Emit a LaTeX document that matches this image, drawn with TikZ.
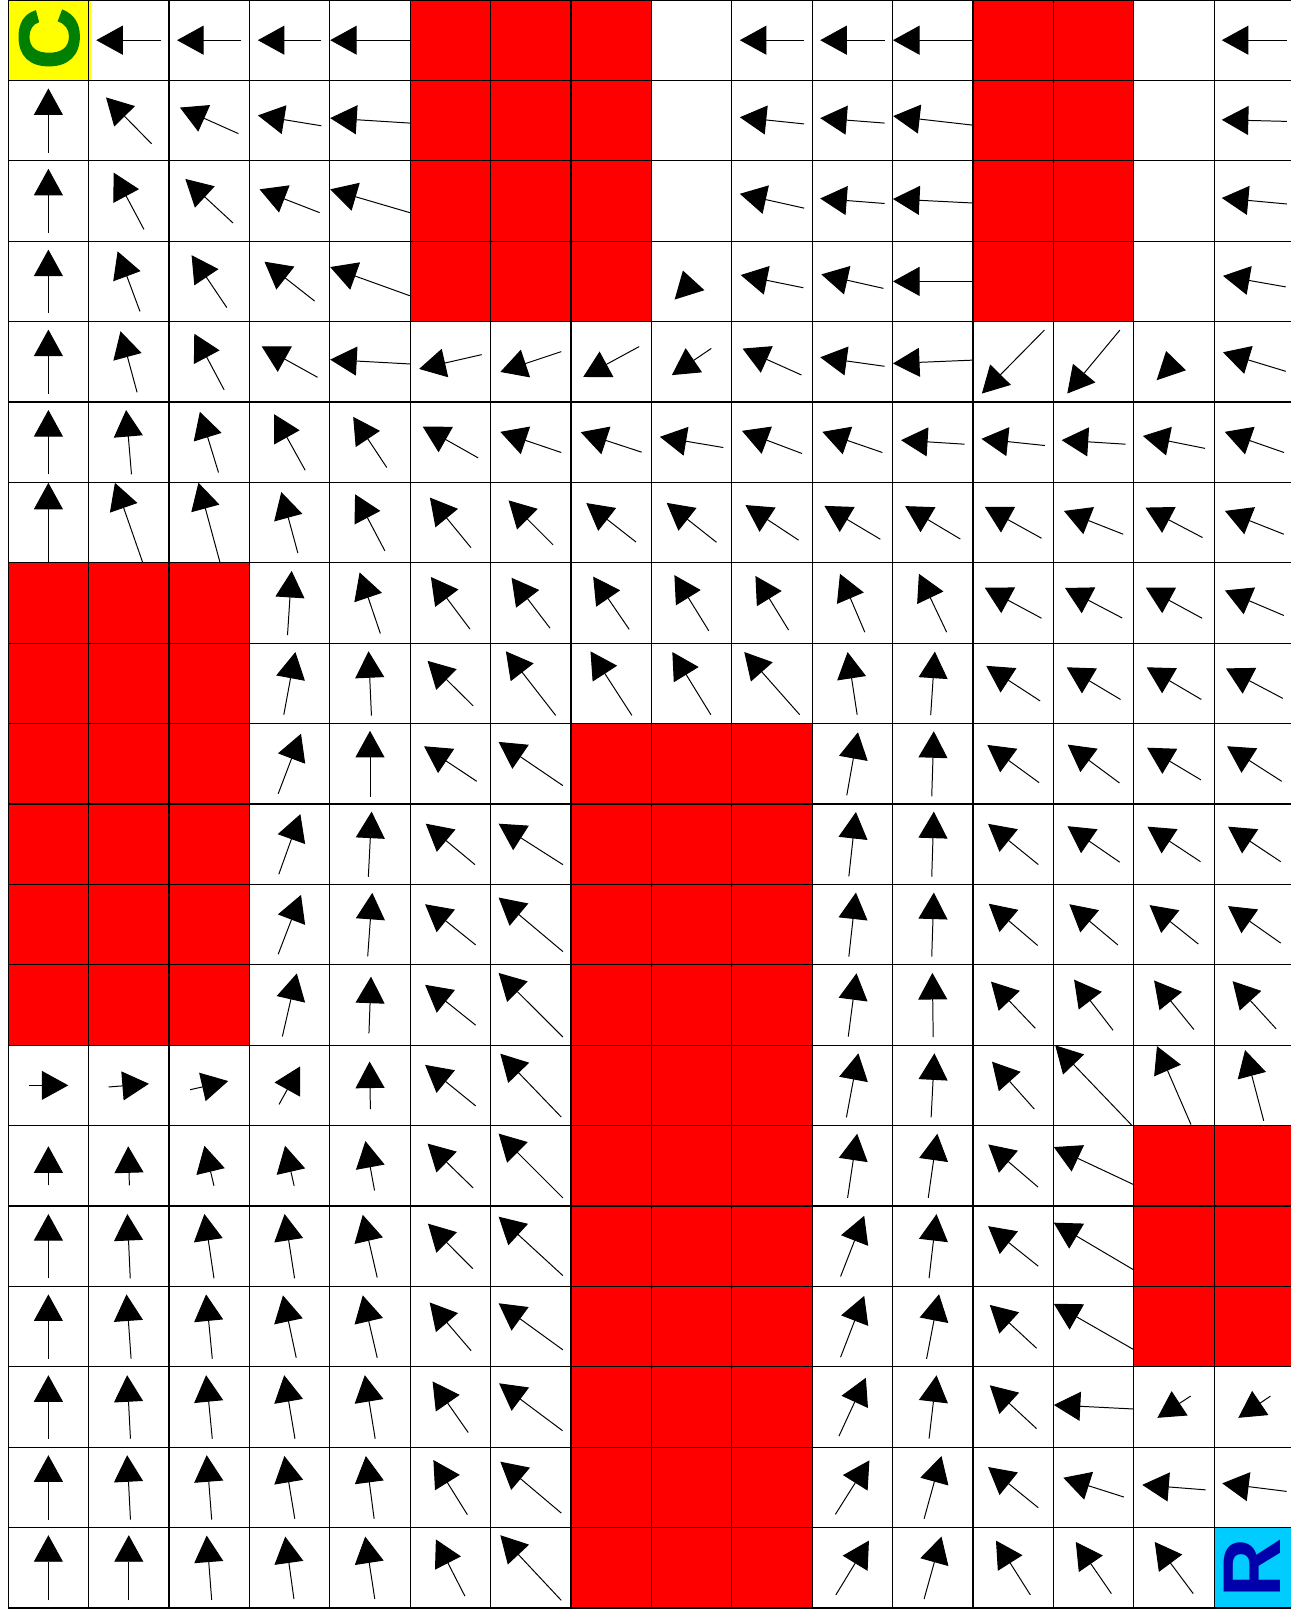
\documentclass[tikz,border=0pt]{standalone}
\usepackage{fontspec}
\setmainfont{Liberation Sans}
\newfontfamily\heavyfont[FakeBold=1.6]{Liberation Sans Bold}
\usetikzlibrary{arrows.meta}
\definecolor{cellred}{RGB}{255,0,0}
\definecolor{cellyellow}{RGB}{255,255,0}
\definecolor{cellcyan}{RGB}{0,204,255}
\definecolor{cgreen}{RGB}{0,128,0}
\definecolor{rblue}{RGB}{0,0,170}
\tikzset{
  gridline/.style={draw=black, line width=0.45pt},
  qarrow/.style={line width=0.35pt, -{Triangle[length=0.33cm, width=0.36cm]}},
  redcell/.style={fill=cellred},
  bigletter/.style={rotate=90, inner sep=0pt}
}
\begin{document}
\begin{tikzpicture}[x=1cm,y=1cm]
\useasboundingbox (-0.102,0) rectangle (15.955,-20.1);
\clip (-0.102,0) rectangle (15.955,-20.1);
% obstacle cells
\foreach \r in {0,...,3}{\foreach \c in {5,6,7,12,13}{\fill[redcell] (\c,-\r) rectangle ++(1,-1);}}
\foreach \r in {7,...,12}{\foreach \c in {0,1,2}{\fill[redcell] (\c,-\r) rectangle ++(1,-1);}}
\foreach \r in {9,...,19}{\foreach \c in {7,8,9}{\fill[redcell] (\c,-\r) rectangle ++(1,-1);}}
\foreach \r in {14,15,16}{\foreach \c in {14,15}{\fill[redcell] (\c,-\r) rectangle ++(1,-1);}}
% start and goal cells
\fill[cellyellow] (0.01,0) rectangle (1.03,-1.01);
\fill[cellcyan] (15,-19) rectangle (16,-20);
% grid
\draw[gridline] (0,0) grid (16,-20);
\node[bigletter, text=cgreen, font=\heavyfont\fontsize{30}{30}\selectfont] (start) at (0.51,-0.48) {C};
\node[bigletter, text=rblue, font=\fontsize{29}{29}\selectfont\bfseries] (goal) at (15.47,-19.5) {R};
% arrows: column/row/dx/dy (dy measured downward)
\foreach \c/\r/\u/\v in {
1/0/-0.81/0, 2/0/-0.80/0, 3/0/-0.79/0, 4/0/-0.99/0, 9/0/-0.80/0, 10/0/-0.80/0, 11/0/-0.99/0, 15/0/-0.81/0,
0/1/0/-0.80, 1/1/-0.567/-0.577, 2/1/-0.727/-0.324, 3/1/-0.789/-0.129, 4/1/-0.99/-0.062, 9/1/-0.80/-0.083, 10/1/-0.80/-0.062, 11/1/-0.985/-0.112, 15/1/-0.81/-0.02,
0/2/0/-0.80, 1/2/-0.376/-0.705, 2/2/-0.593/-0.548, 3/2/-0.747/-0.29, 4/2/-0.99/-0.29, 9/2/-0.80/-0.178, 10/2/-0.80/-0.062, 11/2/-0.99/-0.05, 15/2/-0.81/-0.075,
0/3/0/-0.79, 1/3/-0.278/-0.747, 2/3/-0.438/-0.651, 3/3/-0.624/-0.49, 4/3/-0.99/-0.357, 9/3/-0.778/-0.158, 10/3/-0.773/-0.174, 11/3/-0.99/0, 15/3/-0.78/-0.137,
0/4/0/-0.80, 1/4/-0.206/-0.76, 2/4/-0.371/-0.697, 3/4/-0.696/-0.386, 4/4/-0.99/-0.054, 5/4/-0.778/0.178, 6/4/-0.758/0.253, 7/4/-0.696/0.378, 8/4/-0.49/0.332, 9/4/-0.732/-0.328, 10/4/-0.80/-0.112, 11/4/-0.99/0.041, 12/4/-0.778/0.79, 13/4/-0.655/0.79, 15/4/-0.78/-0.237,
0/5/0/-0.80, 1/5/-0.067/-0.80, 2/5/-0.232/-0.755, 3/5/-0.387/-0.697, 4/5/-0.418/-0.63, 5/5/-0.69/-0.39, 6/5/-0.758/-0.257, 7/5/-0.758/-0.249, 8/5/-0.789/-0.133, 9/5/-0.747/-0.282, 10/5/-0.747/-0.257, 11/5/-0.789/-0.05, 12/5/-0.789/-0.083, 13/5/-0.794/-0.05, 14/5/-0.773/-0.154, 15/5/-0.737/-0.257,
0/6/0/-0.99, 1/6/-0.345/-0.99, 2/6/-0.268/-0.99, 3/6/-0.206/-0.76, 4/6/-0.371/-0.705, 5/6/-0.51/-0.622, 6/6/-0.552/-0.552, 7/6/-0.619/-0.485, 8/6/-0.619/-0.49, 9/6/-0.66/-0.436, 10/6/-0.696/-0.415, 11/6/-0.686/-0.41, 12/6/-0.706/-0.39, 13/6/-0.737/-0.29, 14/6/-0.711/-0.373, 15/6/-0.732/-0.29,
3/7/0.052/-0.797, 4/7/-0.258/-0.76, 5/7/-0.485/-0.647, 6/7/-0.479/-0.627, 7/7/-0.448/-0.656, 8/7/-0.428/-0.693, 9/7/-0.412/-0.672, 10/7/-0.309/-0.726, 11/7/-0.345/-0.726, 12/7/-0.706/-0.38, 13/7/-0.711/-0.373, 14/7/-0.70/-0.38, 15/7/-0.732/-0.311,
3/8/0.144/-0.78, 4/8/-0.036/-0.80, 5/8/-0.567/-0.56, 6/8/-0.619/-0.797, 7/8/-0.515/-0.797, 8/8/-0.479/-0.78, 9/8/-0.69/-0.78, 10/8/-0.119/-0.78, 11/8/0.052/-0.79, 12/8/-0.67/-0.436, 13/8/-0.67/-0.40, 14/8/-0.68/-0.40, 15/8/-0.706/-0.373,
3/9/0.284/-0.747, 4/9/0/-0.82, 5/9/-0.655/-0.436, 6/9/-0.80/-0.544, 10/9/0.139/-0.784, 11/9/0.026/-0.81, 12/9/-0.644/-0.469, 13/9/-0.644/-0.477, 14/9/-0.67/-0.40, 15/9/-0.68/-0.436,
3/10/0.268/-0.747, 4/10/0.041/-0.81, 5/10/-0.613/-0.51, 6/10/-0.80/-0.51, 10/10/0.088/-0.80, 11/10/0.026/-0.81, 12/10/-0.624/-0.506, 13/10/-0.65/-0.448, 14/10/-0.66/-0.436, 15/10/-0.655/-0.436,
3/11/0.284/-0.739, 4/11/0.057/-0.79, 5/11/-0.629/-0.506, 6/11/-0.80/-0.672, 10/11/0.088/-0.797, 11/11/0.026/-0.797, 12/11/-0.608/-0.519, 13/11/-0.603/-0.506, 14/11/-0.608/-0.485, 15/11/-0.655/-0.46,
3/12/0.18/-0.784, 4/12/0.026/-0.705, 5/12/-0.629/-0.502, 6/12/-0.80/-0.797, 10/12/0.103/-0.788, 11/12/-0.01/-0.797, 12/12/-0.552/-0.581, 13/12/-0.485/-0.63, 14/12/-0.495/-0.61, 15/12/-0.541/-0.593,
0/13/0.495/0, 1/13/0.50/-0.04, 2/13/0.474/-0.108, 3/13/0.263/-0.473, 4/13/-0.01/-0.593, 5/13/-0.629/-0.51, 6/13/-0.758/-0.788, 10/13/0.149/-0.797, 11/13/0.041/-0.797, 12/13/-0.526/-0.589, 13/13/-0.954/-0.996, 14/13/-0.423/-0.975, 15/13/-0.232/-0.88,
0/14/0/-0.485, 1/14/-0.015/-0.485, 2/14/-0.119/-0.498, 3/14/-0.113/-0.498, 4/14/-0.113/-0.614, 5/14/-0.567/-0.552, 6/14/-0.80/-0.80, 10/14/0.119/-0.797, 11/14/0.113/-0.797, 12/14/-0.619/-0.531, 13/14/-0.99/-0.465,
0/15/0/-0.80, 1/15/-0.036/-0.80, 2/15/-0.119/-0.80, 3/15/-0.124/-0.80, 4/15/-0.18/-0.78, 5/15/-0.557/-0.56, 6/15/-0.80/-0.734, 10/15/0.294/-0.755, 11/15/0.093/-0.797, 12/15/-0.624/-0.498, 13/15/-0.99/-0.585,
0/16/0/-0.80, 1/16/-0.057/-0.80, 2/16/-0.077/-0.80, 3/16/-0.165/-0.776, 4/16/-0.18/-0.776, 5/16/-0.515/-0.60, 6/16/-0.80/-0.58, 10/16/0.294/-0.763, 11/16/0.155/-0.805, 12/16/-0.582/-0.539, 13/16/-0.99/-0.568,
0/17/0/-0.79, 1/17/-0.041/-0.79, 2/17/-0.077/-0.79, 3/17/-0.134/-0.79, 4/17/-0.129/-0.79, 5/17/-0.443/-0.635, 6/17/-0.789/-0.589, 10/17/0.335/-0.726, 11/17/0.093/-0.788, 12/17/-0.582/-0.539, 13/17/-0.99/-0.05, 14/17/-0.412/0.27, 15/17/-0.40/0.27,
0/18/0/-0.80, 1/18/-0.041/-0.80, 2/18/-0.062/-0.80, 3/18/-0.129/-0.78, 4/18/-0.103/-0.78, 5/18/-0.423/-0.68, 6/18/-0.758/-0.639, 10/18/0.423/-0.672, 11/18/0.216/-0.78, 12/18/-0.624/-0.506, 13/18/-0.753/-0.24, 14/18/-0.789/-0.062, 15/18/-0.80/-0.10,
0/19/0/-0.81, 1/19/0/-0.81, 2/19/-0.062/-0.80, 3/19/-0.108/-0.776, 4/19/-0.119/-0.776, 5/19/-0.361/-0.705, 6/19/-0.758/-0.81, 10/19/0.412/-0.676, 11/19/0.216/-0.776, 12/19/-0.428/-0.676, 13/19/-0.443/-0.643, 14/19/-0.479/-0.643
}{
  \draw[qarrow] ({\c+0.5-\u/2},{-\r-0.5+\v/2}) -- ({\c+0.5+\u/2},{-\r-0.5-\v/2});
}
% near-zero arrows drawn as bare heads
\fill (8.289,-3.726) -- (8.392,-3.365) -- (8.66,-3.61) -- cycle;
\fill (14.284,-4.730) -- (14.402,-4.365) -- (14.649,-4.606) -- cycle;
\end{tikzpicture}
\end{document}
